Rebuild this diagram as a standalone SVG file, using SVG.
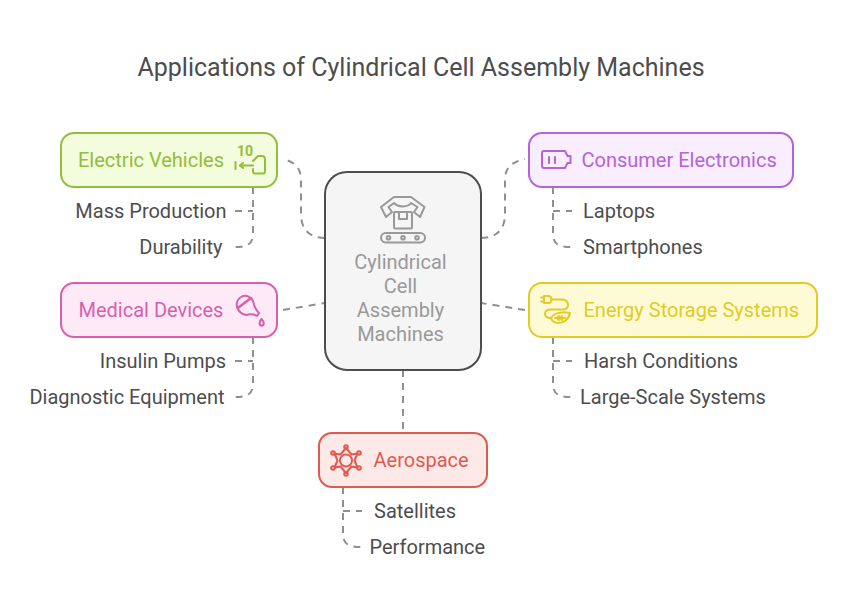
<svg xmlns="http://www.w3.org/2000/svg" width="842" height="608" viewBox="0 0 842 608">
<style>
text{font-family:Roboto,"Liberation Sans",sans-serif;font-size:20px}
.leaf{fill:#4d4d4d}
.c{fill:none;stroke:#8f8f8f;stroke-width:2;stroke-dasharray:7 6}
.box{stroke-width:2}
.i{fill:none;stroke-width:2;stroke-linecap:round;stroke-linejoin:round}
.m{text-anchor:middle}
.e{text-anchor:end}
</style>
<rect width="842" height="608" fill="#fff"/>
<text x="421" y="75.500" class="m" style="font-size:25px" fill="#4d4d4d">Applications of Cylindrical Cell Assembly Machines</text>

<g id="connectors">
<path class="c" d="M325 238C310 238 301 230 301 214V180C301 168 295 162 283 159"/>
<path class="c" d="M283 310L325 303"/>
<path class="c" d="M481 238C496 238 505 230 505 214V180C505 168 511 162 525 159"/>
<path class="c" d="M525 310L481 303"/>
<path class="c" d="M403 370V433"/>
<path class="c" d="M253 187V234C253 245 246 247 234 247"/>
<path class="c" d="M235 211H253"/>
<path class="c" d="M253 337V384C253 395 246 397 234 397"/>
<path class="c" d="M235 361H253"/>
<path class="c" d="M553 187V234C553 245 560 247 572 247"/>
<path class="c" d="M553 211H572"/>
<path class="c" d="M553 337V384C553 395 560 397 572 397"/>
<path class="c" d="M553 361H572"/>
<path class="c" d="M343 487V534C343 545 350 547 362 547"/>
<path class="c" d="M343 511H362"/>
</g>

<g id="center">
<rect x="325" y="172" width="156" height="198" rx="22" fill="#f5f5f5" stroke="#4d4d4d" stroke-width="2"/>
<g class="i" stroke="#999">
<rect x="381" y="233" width="44" height="9.500" rx="4.700"/>
<circle cx="388.500" cy="237.700" r="1.800"/><circle cx="403" cy="237.700" r="1.800"/><circle cx="417" cy="237.700" r="1.800"/>
<rect x="394" y="212" width="18" height="16.500" rx="1"/>
<path d="M399 212V219H407V212"/>
<path d="M394 197H411L424.500 207L420 217L414 212L417.500 207L411 203C408 207.500 398 207.500 394 203L388.500 207L392 212L386 217L381 207Z"/>
</g>
<text class="m" x="400.500" y="269" fill="#999">Cylindrical</text>
<text class="m" x="400.500" y="293" fill="#999">Cell</text>
<text class="m" x="400.500" y="317" fill="#999">Assembly</text>
<text class="m" x="400.500" y="341" fill="#999">Machines</text>
</g>

<g id="electric-vehicles">
<rect class="box" x="61" y="133" width="216" height="54" rx="13" fill="#f3fcdc" stroke="#93bd3d"/>
<text x="78" y="167" fill="#93bd3d">Electric Vehicles</text>
<g class="i" stroke="#93bd3d">
<path d="M235.500 162V169M240 165.500H253"/>
<path d="M240 165.500L243 163M240 165.500L243 168"/>
<path d="M253 161L258 156H262Q265 156 265 160V171Q265 173.500 263 173.500H255Q253 173.500 253 171V169"/>
</g>
<text x="237" y="156" style="font-size:14px;font-weight:700" fill="#93bd3d">10</text>
</g>
<g id="mass-production"><text class="leaf e" x="226.500" y="218">Mass Production</text></g>
<g id="durability"><text class="leaf e" x="222.500" y="254">Durability</text></g>

<g id="medical-devices">
<rect class="box" x="61" y="283" width="216" height="54" rx="13" fill="#fdeaf6" stroke="#d95fae"/>
<text x="78.500" y="317" fill="#d95fae">Medical Devices</text>
<g class="i" stroke="#d95fae">
<path d="M240 312C235 307 236 300 241 297C246 294 251 297 253 301C254 306 256 310 259 313L257 316C254 314 250 314 246 315C244 315 242 314 240 312Z"/>
<path d="M238.500 307.500L251 298" stroke-width="2.500"/>
<path d="M261.500 319C264.500 322 264.500 325.500 261.500 325.500C259 325.500 259 322 261.500 319Z"/>
</g>
</g>
<g id="insulin-pumps"><text class="leaf e" x="226" y="368">Insulin Pumps</text></g>
<g id="diagnostic-equipment"><text class="leaf e" x="224.500" y="404">Diagnostic Equipment</text></g>

<g id="consumer-electronics">
<rect class="box" x="529" y="133" width="264" height="54" rx="13" fill="#f9eefe" stroke="#b762d9"/>
<text x="581.500" y="167" fill="#b762d9">Consumer Electronics</text>
<g class="i" stroke="#b762d9">
<path d="M544 151H565L567.500 156H570.500V163H567.500L565 168H544Q542 168 542 166V153Q542 151 544 151Z"/>
<path d="M549 157V163M555 157V163"/>
</g>
</g>
<g id="laptops"><text class="leaf" x="583" y="218">Laptops</text></g>
<g id="smartphones"><text class="leaf" x="583" y="254">Smartphones</text></g>

<g id="energy-storage-systems">
<rect class="box" x="529" y="283" width="288" height="54" rx="13" fill="#fefad6" stroke="#e3cb22"/>
<text x="583.500" y="317" fill="#e3cb22">Energy Storage Systems</text>
<g class="i" stroke="#e3cb22">
<path d="M541 297.500H544M541 301.500H544M544 296H548Q551.500 296 551.500 299.500Q551.500 303 548 303H544Z"/>
<path d="M551.500 299.500H562Q568 300 568 305Q568 309.500 562 309.500H550Q545 310 545 314Q545 318 551 318"/>
<path d="M551 318C554 313 562 311 570 313C569 319 564 323 558 323C554 323 552 321 551 318Z"/>
<path d="M555 318H565M562 316L560 318L562 320M559 316L557 318L559 320"/>
</g>
</g>
<g id="harsh-conditions"><text class="leaf" x="584" y="368">Harsh Conditions</text></g>
<g id="large-scale-systems"><text class="leaf" x="580" y="404">Large-Scale Systems</text></g>

<g id="aerospace">
<rect class="box" x="319" y="433" width="168" height="54" rx="13" fill="#fde9e7" stroke="#e05a52"/>
<text x="373.500" y="467" fill="#e05a52">Aerospace</text>
<g class="i" stroke="#e05a52">
<circle cx="346" cy="460.500" r="6"/>
<path d="M346 448L340.500 454.500L334.500 453.500L337.500 460.500L334.500 467.500L340.500 466.500L346 473L351.500 466.500L357.500 467.500L354.500 460.500L357.500 453.500L351.500 454.500Z"/>
<circle cx="346" cy="447" r="1.800"/><circle cx="346" cy="474" r="1.800"/>
<circle cx="333" cy="453" r="1.800"/><circle cx="359" cy="453" r="1.800"/>
<circle cx="333" cy="468" r="1.800"/><circle cx="359" cy="468" r="1.800"/>
</g>
</g>
<g id="satellites"><text class="leaf" x="374" y="518">Satellites</text></g>
<g id="performance"><text class="leaf" x="369.500" y="554">Performance</text></g>
</svg>
